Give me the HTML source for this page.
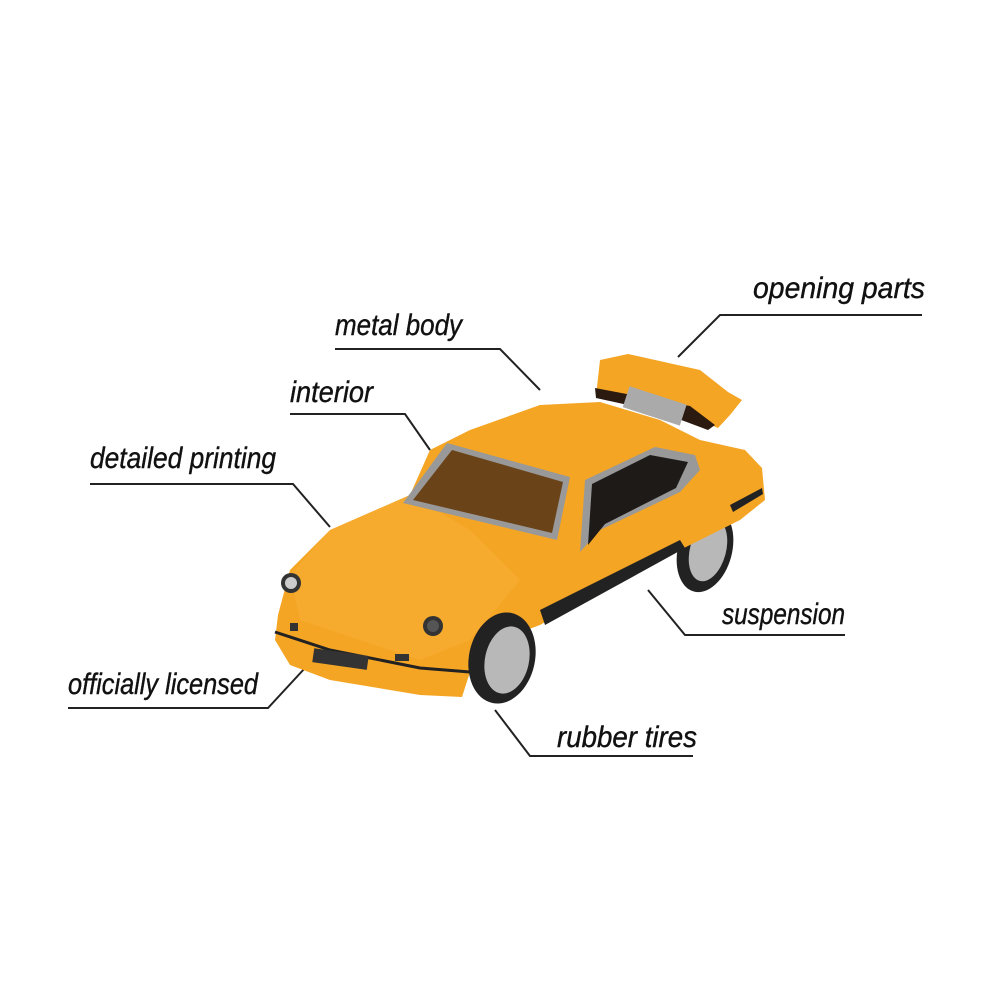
<!DOCTYPE html>
<html><head><meta charset="utf-8"><style>
html,body{margin:0;padding:0;background:#fff;width:1000px;height:1000px;overflow:hidden}
</style></head><body>
<svg width="1000" height="1000" viewBox="0 0 1000 1000" xmlns="http://www.w3.org/2000/svg">
<g font-family="'Liberation Sans Narrow','Liberation Sans',sans-serif" font-style="italic" font-size="30" fill="#111" stroke="#111" stroke-width="0.4">
<text x="753" y="298" textLength="172" lengthAdjust="spacingAndGlyphs">opening parts</text>
<text x="335" y="335" textLength="127" lengthAdjust="spacingAndGlyphs">metal body</text>
<text x="290" y="402" textLength="83" lengthAdjust="spacingAndGlyphs">interior</text>
<text x="90" y="468" textLength="186" lengthAdjust="spacingAndGlyphs">detailed printing</text>
<text x="68" y="694" textLength="190" lengthAdjust="spacingAndGlyphs">officially licensed</text>
<text x="557" y="747" textLength="140" lengthAdjust="spacingAndGlyphs">rubber tires</text>
<text x="722" y="624" textLength="123" lengthAdjust="spacingAndGlyphs">suspension</text>
</g>
<g stroke="#222" stroke-width="2" fill="none">
<polyline points="922,315 720,315 678,357"/>
<polyline points="335,349 500,349 540,390"/>
<polyline points="290,414 405,414 430,450"/>
<polyline points="90,484 293,484 330,527"/>
<polyline points="68,708 268,708 305,668"/>
<polyline points="693,756 530,756 495,710"/>
<polyline points="845,635 685,635 648,590"/>
</g>
<polygon points="600,360 628,354 700,370 728,392 742,400 730,415 718,428 690,416 596,396" fill="#F5A524"/>
<polygon points="595,388 690,406 715,425 708,430 660,412 596,398" fill="#2a1a10"/>
<rect x="625" y="395" width="60" height="22" fill="#aaa" transform="rotate(18 655 405)"/>
<ellipse cx="705" cy="550" rx="27" ry="43" fill="#222" transform="rotate(15 705 550)"/>
<ellipse cx="708" cy="550" rx="18" ry="32" fill="#b8b8b8" transform="rotate(15 708 550)"/>
<polygon points="278,615 290,570 330,530 410,495 430,450 470,430 540,405 600,402 660,420 700,440 745,450 762,468 765,500 740,520 690,545 610,585 540,625 500,640 470,672 462,697 420,695 330,680 290,665 275,640" fill="#F5A524"/>
<polygon points="330,530 410,495 470,530 520,580 470,640 420,660 300,620 290,575" fill="#F7AE35" opacity="0.6"/>
<polygon points="447,443 570,477 557,540 403,503" fill="#999"/>
<polygon points="452,450 563,482 552,533 413,500" fill="#6b4318"/>
<polygon points="585,480 655,447 695,455 700,470 680,492 600,530 580,552" fill="#999"/>
<polygon points="592,484 650,455 688,462 676,488 605,524 588,545" fill="#1e1a18"/>
<polygon points="540,610 680,540 685,548 545,625" fill="#222"/>
<polygon points="730,505 762,488 763,494 733,512" fill="#222"/>
<ellipse cx="502" cy="658" rx="33" ry="46" fill="#222" transform="rotate(12 502 658)"/>
<ellipse cx="507" cy="660" rx="22" ry="34" fill="#b8b8b8" transform="rotate(12 507 660)"/>
<polyline points="275,632 330,650 420,668 470,672" stroke="#222" stroke-width="3" fill="none"/>
<rect x="313" y="652" width="55" height="14" fill="#333" transform="rotate(8 340 659)"/>
<circle cx="291" cy="583" r="10" fill="#333"/><circle cx="291" cy="583" r="6" fill="#ccc"/>
<circle cx="433" cy="626" r="10" fill="#333"/><circle cx="433" cy="626" r="6" fill="#555"/>
<rect x="395" y="654" width="14" height="7" fill="#333"/>
<rect x="290" y="623" width="8" height="8" fill="#333"/>
</svg>
</body></html>
